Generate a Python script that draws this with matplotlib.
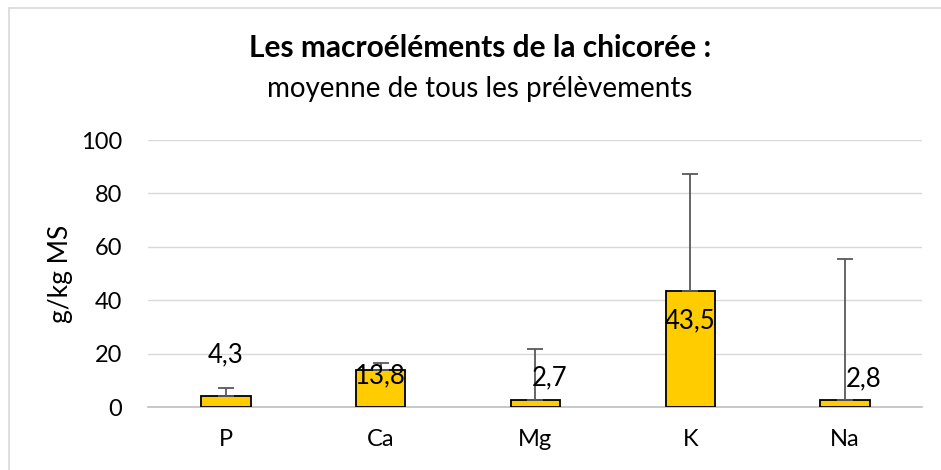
import matplotlib
matplotlib.use("Agg")
import matplotlib.pyplot as plt
from matplotlib.lines import Line2D

# ── DATA ──────────────────────────────────────────────────────────────────────
elements = ["P", "Ca", "Mg", "K", "Na"]
means    = [4.3, 13.8, 2.7, 43.5, 2.8]
err_up   = [2.8, 2.8, 18.9, 43.8, 52.7]
labels   = ["4,3", "13,8", "2,7", "43,5", "2,8"]

# manual data-label placement (x offset in category units, y in data units)
lab_dx = [0.0, 0.0, 0.09, 0.0, 0.12]
lab_y  = [19.5, 11.8, 10.9, 32.3, 10.5]

# ── STYLE ─────────────────────────────────────────────────────────────────────
plt.rcParams["font.family"] = ["Lato", "DejaVu Sans"]
c_bar  = "#FFCC00"
c_err  = "#595959"
c_grid = "#D9D9D9"
c_text = "#000000"

fig = plt.figure(figsize=(9.41, 4.70), dpi=100)
ax = fig.add_axes([0.1578, 0.134, 0.8225, 0.568])

x = list(range(len(elements)))
ax.bar(x, means, width=0.32, color=c_bar, edgecolor="black", linewidth=1.3, zorder=3)
ax.errorbar(x, means, yerr=[[0] * len(means), err_up], fmt="none",
            ecolor=c_err, elinewidth=1.3, capsize=6, capthick=1.3, zorder=4)

for xi, dx, yy, txt in zip(x, lab_dx, lab_y, labels):
    ax.text(xi + dx, yy, txt, ha="center", va="center", fontsize=18.5,
            color=c_text, zorder=5)

ax.set_xlim(-0.5, len(elements) - 0.5)
ax.set_ylim(0, 100)
ax.set_yticks(range(0, 101, 20))
ax.set_xticks(x)
ax.set_xticklabels(elements)
ax.grid(axis="y", color=c_grid, lw=1.0, zorder=0)
ax.set_axisbelow(True)
for s in ["top", "right", "left"]:
    ax.spines[s].set_visible(False)
ax.spines["bottom"].set_color("#BFBFBF")
ax.spines["bottom"].set_linewidth(1.2)
ax.tick_params(axis="both", length=0, labelsize=17)
ax.tick_params(axis="y", pad=19)
ax.tick_params(axis="x", pad=16)
ax.set_ylabel("g/kg MS", fontsize=19, labelpad=6)

fig.text(0.51, 0.897, "Les macroéléments de la chicorée :", ha="center",
         va="center", fontsize=21.5, fontweight="bold")
fig.text(0.51, 0.81, "moyenne de tous les prélèvements", ha="center",
         va="center", fontsize=20)

# outer chart frame
fig.add_artist(Line2D([9 / 941, 1.0], [1 - 8 / 470, 1 - 8 / 470],
                      transform=fig.transFigure, color="#D9D9D9", lw=1.2))
fig.add_artist(Line2D([9 / 941, 9 / 941], [0, 1 - 8 / 470],
                      transform=fig.transFigure, color="#D9D9D9", lw=1.2))

fig.savefig("out.png", dpi=100)
